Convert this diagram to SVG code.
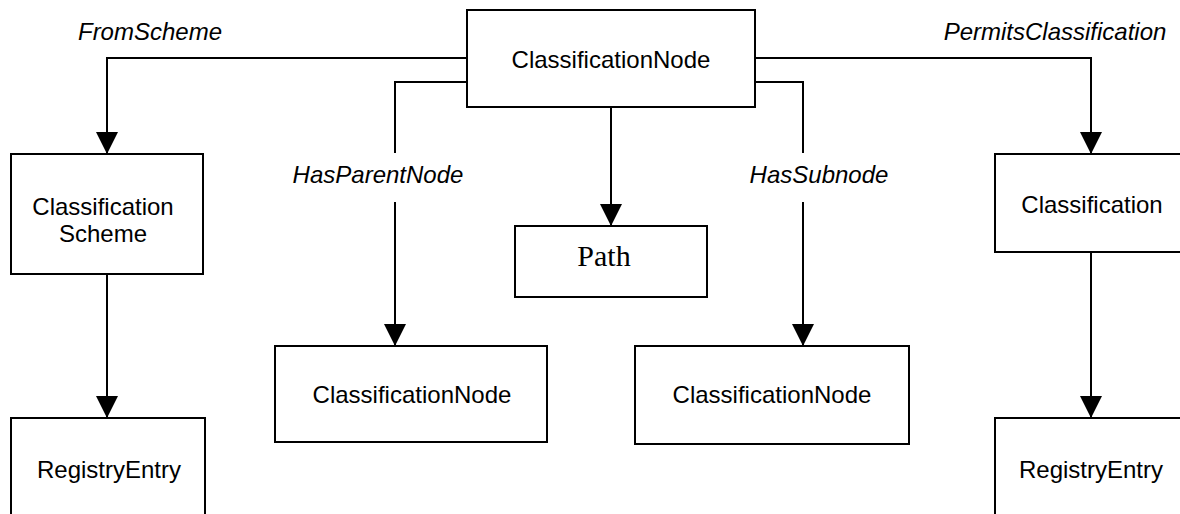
<svg xmlns="http://www.w3.org/2000/svg" width="1180" height="514" viewBox="0 0 1180 514">
<style>
.box{fill:#fff;stroke:#000;stroke-width:2}
.t{font-family:"Liberation Sans",Arial,sans-serif;font-size:24px;fill:#000;text-anchor:middle}
.lbl{font-family:"Liberation Sans",Arial,sans-serif;font-size:24px;font-style:italic;fill:#000;text-anchor:middle}
.serif{font-family:"Liberation Serif","Times New Roman",serif;font-size:30px;fill:#000;text-anchor:middle}
.c{fill:none;stroke:#000;stroke-width:2}
</style>
<defs>
<marker id="arr" markerUnits="userSpaceOnUse" markerWidth="22" markerHeight="22" viewBox="0 0 20 20" refX="20" refY="10" orient="auto">
<path d="M0,0 L20,10 L0,20 Z" fill="#000"/>
</marker>
</defs>
<rect width="1180" height="514" fill="#fff"/>
<g id="connectors">
<polyline class="c" points="467,58 107,58 107,154" marker-end="url(#arr)"/>
<polyline class="c" points="467,82 395,82 395,153"/>
<line class="c" x1="395" y1="202" x2="395" y2="346" marker-end="url(#arr)"/>
<line class="c" x1="611" y1="107" x2="611" y2="226" marker-end="url(#arr)"/>
<polyline class="c" points="755,82 803,82 803,153"/>
<line class="c" x1="803" y1="202" x2="803" y2="346" marker-end="url(#arr)"/>
<polyline class="c" points="755,58 1091,58 1091,154" marker-end="url(#arr)"/>
<line class="c" x1="107" y1="274" x2="107" y2="418" marker-end="url(#arr)"/>
<line class="c" x1="1091" y1="252" x2="1091" y2="418" marker-end="url(#arr)"/>
<text class="lbl" x="150" y="40">FromScheme</text>
<text class="lbl" x="1055" y="40">PermitsClassification</text>
<text class="lbl" x="378" y="183">HasParentNode</text>
<text class="lbl" x="819" y="183">HasSubnode</text>
</g>
<g id="node-top">
<rect class="box" x="467" y="10" width="288" height="97"/>
<text class="t" x="611" y="68">ClassificationNode</text>
</g>
<g id="node-scheme">
<rect class="box" x="11" y="154" width="192" height="120"/>
<text class="t" x="103" y="215">Classification</text>
<text class="t" x="103" y="242">Scheme</text>
</g>
<g id="node-registry-left">
<rect class="box" x="11" y="418" width="194" height="110"/>
<text class="t" x="109" y="478">RegistryEntry</text>
</g>
<g id="node-path">
<rect class="box" x="515" y="226" width="192" height="71"/>
<text class="serif" x="604" y="266">Path</text>
</g>
<g id="node-parent">
<rect class="box" x="275" y="346" width="272" height="96"/>
<text class="t" x="412" y="403">ClassificationNode</text>
</g>
<g id="node-sub">
<rect class="box" x="635" y="346" width="274" height="98"/>
<text class="t" x="772" y="403">ClassificationNode</text>
</g>
<g id="node-classification">
<rect class="box" x="995" y="154" width="200" height="98"/>
<text class="t" x="1092" y="213">Classification</text>
</g>
<g id="node-registry-right">
<rect class="box" x="995" y="418" width="200" height="110"/>
<text class="t" x="1091" y="478">RegistryEntry</text>
</g>
</svg>
